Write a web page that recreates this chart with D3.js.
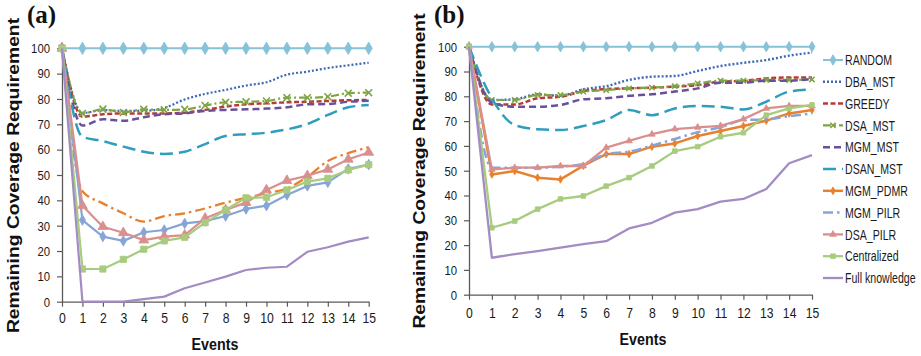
<!DOCTYPE html>
<html>
<head>
<meta charset="utf-8">
<script src="https://cdn.jsdelivr.net/npm/d3@7"></script>
<style>
  body { margin: 0; background: #fff; }
  svg { display: block; }
</style>
</head>
<body>
<svg id="chart" width="921" height="356"></svg>
<script>
// ---- data -------------------------------------------------------------
const events = [0, 1, 2, 3, 4, 5, 6, 7, 8, 9, 10, 11, 12, 13, 14, 15];
const yTickValues = [0, 10, 20, 30, 40, 50, 60, 70, 80, 90, 100];
const seriesNames = ["RANDOM", "DBA_MST", "GREEDY", "DSA_MST", "MGM_MST", "DSAN_MST",
                     "MGM_PDMR", "MGM_PILR", "DSA_PILR", "Centralized", "Full knowledge"];

// panel (a)
const aRandom        = [100, 100, 100, 100, 100, 100, 100, 100, 100, 100, 100, 100, 100, 100, 100, 100];
const aDbaMst        = [100, 74.5, 75.6, 75.3, 75.3, 76.5, 79.8, 82, 83.6, 85.3, 86.6, 89.6, 90.8, 92.2, 93.3, 94.3];
const aGreedy        = [100, 73, 74, 74.3, 74.3, 74.3, 74.6, 75.7, 77, 77.9, 78.3, 78.7, 78.9, 79.2, 79.5, 79.6];
const aDsaMst        = [100, 74.3, 76, 74.7, 75.9, 75.7, 75.9, 77.4, 78.7, 78.9, 79.2, 80.5, 80.5, 80.9, 82.3, 82.5];
const aMgmMst        = [100, 69.5, 72, 71.4, 72.8, 74, 74.3, 75.3, 75.7, 75.9, 76.2, 76.7, 77.9, 78, 78.9, 79.3];
const aDsanMst       = [100, 65.1, 63.4, 61.2, 59.2, 58.3, 59.2, 62.2, 65.4, 66.1, 66.7, 68, 70.1, 73.7, 76.7, 77.6];
const aMgmPdmr       = [100, 43.6, 38.8, 34.9, 31.6, 33.8, 34.9, 36.8, 39.1, 41, 42.8, 44.7, 49.3, 55.5, 58.6, 61];
const aMgmPilr       = [100, 32.2, 25.7, 24, 27.4, 28.3, 30.9, 31.8, 33.8, 36.6, 37.9, 42.1, 45.7, 47.1, 52.4, 54.1];
const aDsaPilr       = [100, 37.9, 29.6, 27.2, 24.3, 25.7, 26.3, 32.9, 36.2, 39.1, 44.1, 47.8, 49.7, 52.2, 56.2, 58.9];
const aCentralized   = [100, 12.9, 12.9, 16.7, 20.7, 24, 25.4, 31.2, 36.2, 41, 41.2, 44.1, 47.4, 48.7, 52, 54.1];
const aFullKnowledge = [100, 0, 0, 0, 1, 2, 5.3, 7.6, 9.9, 12.5, 13.4, 13.8, 19.7, 21.5, 23.7, 25.4];

// panel (b)
const bRandom        = [100, 100, 100, 100, 100, 100, 100, 100, 100, 100, 100, 100, 100, 100, 100, 100];
const bDbaMst        = [100, 78.5, 78.8, 80.8, 80.2, 82.8, 84.1, 86.6, 87.9, 88.2, 90.2, 92.2, 93.5, 94.6, 96.4, 97.6];
const bGreedy        = [100, 76.7, 76.7, 79.2, 79.8, 82.1, 82.9, 83.2, 83.5, 83.9, 84.5, 85.9, 86.2, 87.2, 87.6, 87.6];
const bDsaMst        = [100, 78.5, 78.5, 80.5, 80.5, 81.9, 82.5, 83.2, 83.5, 84.1, 85.2, 86.3, 86.3, 86.6, 86.6, 86.8];
const bMgmMst        = [100, 77.4, 75.8, 75.8, 76.5, 78.8, 79.2, 80.2, 80.8, 81.9, 83.2, 85.5, 85.5, 86.3, 86.3, 87];
const bDsanMst       = [100, 79.2, 68.4, 66.7, 66.4, 68, 70.4, 74.5, 72.4, 75.1, 76.1, 75.8, 74.7, 77.8, 81.9, 82.8];
const bMgmPdmr       = [100, 48.5, 49.9, 47.2, 46.5, 52, 56.7, 56.7, 59.7, 61, 64, 66, 68, 70.2, 73.1, 74.5];
const bMgmPilr       = [100, 51.2, 51.2, 51.2, 51.6, 52.7, 56.7, 57.7, 60.1, 62.8, 65.5, 67.5, 70.4, 70.7, 72, 73.1];
const bDsaPilr       = [100, 50.5, 51.2, 51.2, 51.9, 51.9, 59.3, 62, 64.7, 66.8, 67.5, 68.1, 70.8, 75.1, 76.1, 76.1];
const bCentralized   = [100, 27, 29.7, 34.5, 38.6, 39.8, 43.8, 47.2, 51.9, 57.9, 59.7, 63.7, 65.3, 72.4, 75.1, 76.5];
const bFullKnowledge = [100, 14.9, 16.4, 17.6, 19, 20.4, 21.6, 26.7, 29, 33.1, 34.5, 37.5, 38.6, 42.6, 53, 56.3];

const panelAValues = [aRandom, aDbaMst, aGreedy, aDsaMst, aMgmMst, aDsanMst,
                      aMgmPdmr, aMgmPilr, aDsaPilr, aCentralized, aFullKnowledge];
const panelBValues = [bRandom, bDbaMst, bGreedy, bDsaMst, bMgmMst, bDsanMst,
                      bMgmPdmr, bMgmPilr, bDsaPilr, bCentralized, bFullKnowledge];

// ---- styles -----------------------------------------------------------
const colors = {
  "RANDOM": "#86c2d8", "DBA_MST": "#3c68b4", "GREEDY": "#b83a37", "DSA_MST": "#7fa444",
  "MGM_MST": "#6a4f9c", "DSAN_MST": "#2f9ebc", "MGM_PDMR": "#e8812f", "MGM_PILR": "#87a4d6",
  "DSA_PILR": "#d98f8d", "Centralized": "#a8cc7e", "Full knowledge": "#a38bc3"
};

// per-panel line styles: dash pattern, width, marker shape, marker size, smoothing
const stylesA = {
  "RANDOM":        { dash: null,         w: 2,   marker: "diamond",  ms: 4.5 },
  "DBA_MST":       { dash: "2,2",        w: 2.2, smooth: true },
  "GREEDY":        { dash: "5,2.5",      w: 2.5, smooth: true },
  "DSA_MST":       { dash: "8,3,2,3",    w: 2.2, marker: "x", ms: 3.2, smooth: true },
  "MGM_MST":       { dash: "7,4",        w: 2.5, smooth: true },
  "DSAN_MST":      { dash: "13,6",       w: 2.5, smooth: true },
  "MGM_PDMR":      { dash: "10,4,2.5,4", w: 2.3, smooth: true },
  "MGM_PILR":      { dash: null,         w: 2.2, marker: "diamond",  ms: 3.8 },
  "DSA_PILR":      { dash: null,         w: 2.2, marker: "triangle", ms: 4.2 },
  "Centralized":   { dash: null,         w: 2.2, marker: "square",   ms: 3.5 },
  "Full knowledge":{ dash: null,         w: 2.2 }
};
const stylesB = {
  "RANDOM":        { dash: null,         w: 2,   marker: "diamond",  ms: 3.8 },
  "DBA_MST":       { dash: "2,2",        w: 2.4, smooth: true },
  "GREEDY":        { dash: "5,2.5",      w: 2.5, smooth: true },
  "DSA_MST":       { dash: "8,3,2,3",    w: 2.2, marker: "x", ms: 2.5, smooth: true },
  "MGM_MST":       { dash: "7,4",        w: 2.5, smooth: true },
  "DSAN_MST":      { dash: "13,6",       w: 2.5, smooth: true },
  "MGM_PDMR":      { dash: null,         w: 2.5, marker: "diamond",  ms: 2.8 },
  "MGM_PILR":      { dash: "10,4,2.5,4", w: 2.5, smooth: true },
  "DSA_PILR":      { dash: null,         w: 2.3, marker: "triangle", ms: 2.8 },
  "Centralized":   { dash: null,         w: 2.3, marker: "square",   ms: 2.6 },
  "Full knowledge":{ dash: null,         w: 2.3 }
};

const HS = 0.84;            // horizontal squeeze applied to text
const axisColor = "#5a5a5a";
const textColor = "#1a1a1a";
const svg = d3.select("#chart");

function markerPath(shape, r) {
  const types = { diamond: d3.symbolDiamond, square: d3.symbolSquare,
                  triangle: d3.symbolTriangle, x: d3.symbolX };
  const area = shape === "diamond" ? r * r * 2.2 : shape === "triangle" ? r * r * 2.4 : r * r * 3.2;
  return d3.symbol().type(types[shape]).size(area)();
}

function drawMarker(sel, cx, cy, st, color) {
  if (!st.marker) return;
  const isX = st.marker === "x";
  sel.append("path")
    .attr("d", markerPath(st.marker, st.ms))
    .attr("transform", `translate(${cx},${cy})`)
    .attr("fill", isX ? "none" : color)
    .attr("stroke", color)
    .attr("stroke-width", isX ? 1.6 : 0.8);
}

function drawPanel(p) {
  const x = d3.scaleLinear().domain([0, 15]).range([p.left, p.right]);
  const y = d3.scaleLinear().domain([0, 100]).range([p.bottom, p.top]);
  const g = svg.append("g");

  // x axis
  const gx = g.append("g")
    .attr("transform", `translate(0,${p.bottom})`)
    .call(d3.axisBottom(x).tickValues(events).tickFormat(d3.format("d"))
      .tickSizeInner(5).tickSizeOuter(0).tickPadding(p.xPad));
  // y axis
  const gy = g.append("g")
    .attr("transform", `translate(${p.left},0)`)
    .call(d3.axisLeft(y).tickValues(yTickValues)
      .tickSizeInner(5).tickSizeOuter(0).tickPadding(9.3));

  [gx, gy].forEach(ax => {
    ax.selectAll(".domain").attr("stroke", axisColor).attr("stroke-width", 1.3);
    ax.selectAll(".tick line").attr("stroke", axisColor).attr("stroke-width", 1.2);
  });
  gx.selectAll(".tick text")
    .attr("font-family", "Liberation Sans, Arial, sans-serif")
    .attr("font-size", 14.5).attr("fill", textColor)
    .attr("transform", `scale(${HS},1)`);
  gy.selectAll(".tick text")
    .attr("font-family", "Liberation Sans, Arial, sans-serif")
    .attr("font-size", 13.5).attr("fill", textColor)
    .attr("transform", `scale(${HS},1)`);

  // series
  seriesNames.forEach((name, k) => {
    const vals = p.values[k];
    const st = p.styles[name];
    const color = colors[name];
    const line = d3.line()
      .x((d, i) => x(events[i]))
      .y(d => y(d))
      .curve(st.smooth ? d3.curveMonotoneX : d3.curveLinear);
    g.append("path")
      .datum(vals)
      .attr("d", line)
      .attr("fill", "none")
      .attr("stroke", color)
      .attr("stroke-width", st.w)
      .attr("stroke-linejoin", "round")
      .attr("stroke-dasharray", st.dash);
    if (st.marker) {
      const mg = g.append("g");
      vals.forEach((v, i) => drawMarker(mg, x(events[i]), y(v), st, color));
    }
  });

  // panel label
  svg.append("text")
    .attr("x", p.labelX).attr("y", 23)
    .attr("font-family", "Liberation Serif, Times New Roman, serif")
    .attr("font-weight", "bold").attr("font-size", 25)
    .attr("fill", "#111")
    .text(p.label);

  // axis titles
  svg.append("text")
    .attr("transform", `translate(${p.yTitleX},${p.yTitleY}) scale(${HS},1) rotate(-90)`)
    .attr("text-anchor", "middle")
    .attr("font-family", "Liberation Sans, Arial, sans-serif")
    .attr("font-weight", "bold").attr("font-size", 19.3)
    .attr("fill", "#111")
    .text("Remaining Coverage Requirement");
  svg.append("text")
    .attr("transform", `translate(${p.xTitleX},${p.xTitleY}) scale(${HS},1)`)
    .attr("text-anchor", "middle")
    .attr("font-family", "Liberation Sans, Arial, sans-serif")
    .attr("font-weight", "bold").attr("font-size", 17)
    .attr("fill", "#111")
    .text("Events");
}

drawPanel({ left: 62, right: 368.7, top: 48.3, bottom: 301.7, xPad: 6.3,
            values: panelAValues, styles: stylesA, label: "(a)", labelX: 27,
            yTitleX: 19, yTitleY: 175.5, xTitleX: 215, xTitleY: 350 });
drawPanel({ left: 469, right: 812, top: 46.7, bottom: 294.7, xPad: 8.3,
            values: panelBValues, styles: stylesB, label: "(b)", labelX: 434,
            yTitleX: 425, yTitleY: 171, xTitleX: 643, xTitleY: 345 });

// legend
const legend = svg.append("g");
seriesNames.forEach((name, k) => {
  const cy = 60 + k * 21.8;
  const st = stylesB[name];
  const color = colors[name];
  legend.append("line")
    .attr("x1", 823).attr("x2", 843).attr("y1", cy).attr("y2", cy)
    .attr("stroke", color).attr("stroke-width", st.w)
    .attr("stroke-dasharray", st.dash);
  drawMarker(legend, 833, cy, st, color);
  legend.append("text")
    .attr("transform", `translate(845,${cy}) scale(0.73,1)`)
    .attr("dy", "0.36em")
    .attr("font-family", "Liberation Sans, Arial, sans-serif")
    .attr("font-size", 14.5).attr("fill", textColor)
    .text(name);
});
</script>
</body>
</html>
